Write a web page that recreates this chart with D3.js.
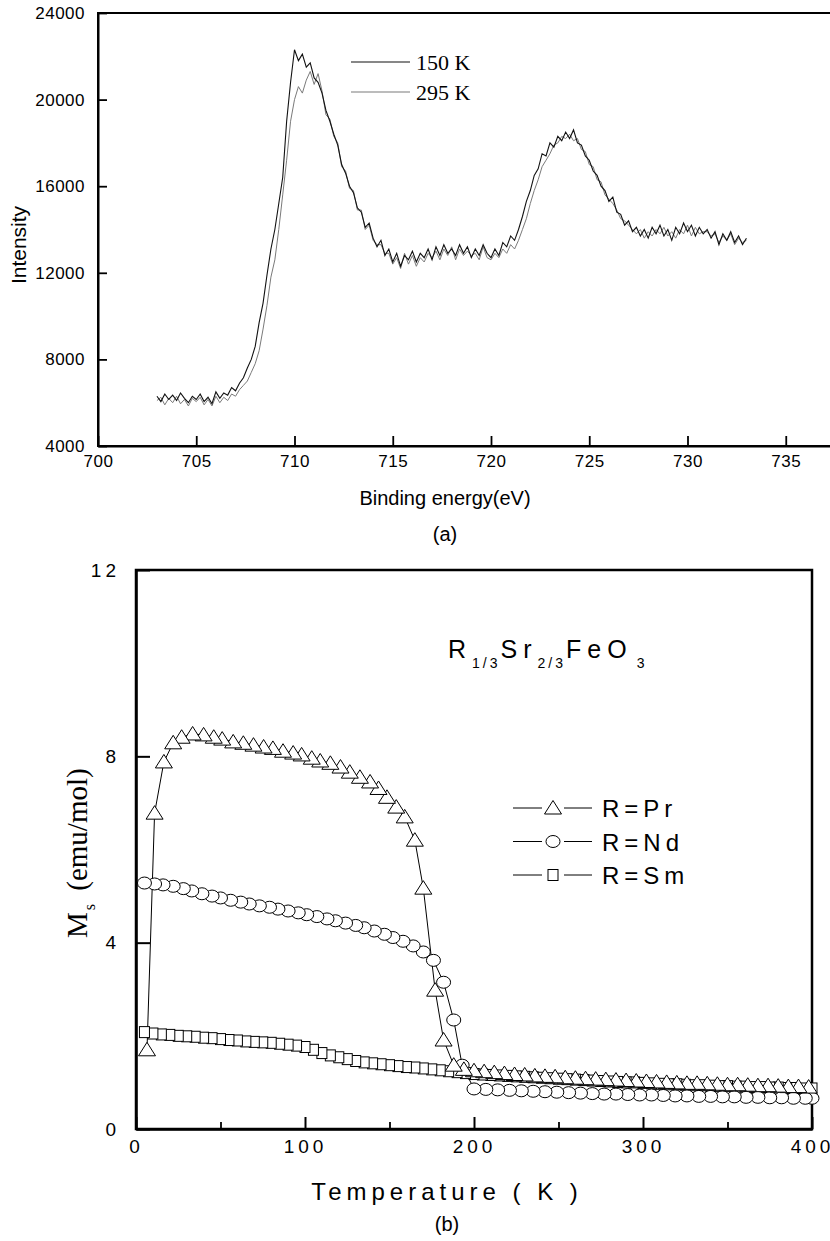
<!DOCTYPE html>
<html>
<head>
<meta charset="utf-8">
<script src="https://cdn.jsdelivr.net/npm/d3@7"></script>
<style>
  body { margin: 0; background: #fff; }
  svg { display: block; background: #fff; }
  text { font-family: "Liberation Sans", Arial, sans-serif; fill: #000; }
  .serif { font-family: "Liberation Serif", "Times New Roman", serif; }
</style>
</head>
<body>
<div id="chart"></div>
<script>
// ---------- panel (a): XPS spectra, 0.2 eV grid starting at 703 eV ----------
const xpsStart = 703, xpsStep = 0.2;
const xps150K = [
  6300, 6050, 6400, 6150, 6350, 6100, 6450, 6200, 6000, 6300,
  6150, 6400, 6050, 6250, 5950, 6500, 6200, 6450, 6350, 6700,
  6550, 6900, 7150, 7600, 8000, 8600, 9700, 10600, 11900, 13100,
  14000, 15200, 16400, 19000, 20800, 22300, 21800, 22100, 21500, 21700,
  21000, 20800, 20300, 19500, 19000, 18400, 17900, 17000, 16600, 16000,
  15700, 15000, 14800, 14100, 14300, 13600, 13200, 13500, 12800, 13100,
  12500, 12900, 12300, 12800, 12600, 13000, 12500, 12900, 12700, 13100,
  12600, 13200, 12800, 13300, 12900, 13100, 12800, 13300, 12900, 13200,
  12700, 13100, 12800, 13300, 12900, 12700, 13100, 12800, 13400, 13200,
  13700, 13500, 14000, 14600, 15300, 15800, 16500, 16800, 17500, 17400,
  18000, 17800, 18300, 18100, 18500, 18200, 18600, 18000, 17900, 17400,
  17200, 16700, 16500, 16000, 15800, 15300, 15500, 14800, 14700, 14200,
  14400, 13900, 14100, 13700, 14000, 13600, 14100, 13800, 14200, 13700,
  14000, 13500, 14100, 13800, 14300, 13900, 14200, 13700, 14100, 13800,
  14000, 13600, 13900, 13300, 13800, 13500, 13900, 13400, 13700, 13300,
  13600
];
const xps295K = [
  6100, 6250, 5900, 6200, 6000, 6300, 5950, 6150, 5850, 6200,
  6050, 6250, 5900, 6150, 5850, 6300, 6000, 6250, 6100, 6400,
  6300, 6600, 6800, 7000, 7400, 7800, 8400, 9400, 10500, 11800,
  12600, 14000, 15600, 17200, 19000, 20000, 20600, 20300, 20900, 21300,
  20700, 21200, 20400, 19300, 19100, 18300, 18000, 16900, 16700, 15900,
  15800, 14900, 14900, 14000, 14200, 13500, 13300, 13300, 12900, 12900,
  12400, 12700, 12200, 12900, 12400, 12800, 12300, 12700, 12500, 12900,
  12700, 13000, 12600, 13100, 12800, 13200, 12600, 13100, 12800, 13000,
  12800, 12900, 12600, 13200, 12700, 12600, 12900, 12700, 13100, 12900,
  13300, 13100, 13500, 14000, 14500, 15200, 15800, 16300, 16900, 17200,
  17500, 17900, 18000, 18300, 18200, 18400, 18100, 18200, 17700, 17600,
  17000, 16900, 16300, 16200, 15600, 15400, 15200, 14900, 14500, 14400,
  14200, 14000, 13800, 14000, 13600, 13900, 13700, 14000, 13800, 14100,
  13700, 13900, 13600, 14000, 13800, 14200, 13700, 14100, 13800, 13900,
  13900, 13700, 13800, 13400, 13700, 13500, 13800, 13300, 13600, 13400,
  13500
];
const xpsLegend = ["150 K", "295 K"];
const xpsXTicks = [700, 705, 710, 715, 720, 725, 730, 735];
const xpsYTicks = [4000, 8000, 12000, 16000, 20000, 24000];

// ---------- panel (b): saturation magnetisation vs temperature ----------
const prTemp = [6.5, 11, 16.5, 22, 27, 33.5, 40, 46, 51, 57.5, 63.5, 69.5, 75.5, 81, 87, 93, 98, 104, 109, 115,
  121, 126.5, 132.5, 138.5, 143.5, 148.5, 154, 159, 165, 170, 177, 182, 188,
  194, 200, 206, 212, 218, 224, 230, 236, 242, 248, 254, 260, 266, 272, 278, 284, 290, 296,
  302, 308, 314, 320, 326, 332, 338, 344, 350, 356, 362, 368, 374, 380, 386, 392, 398];
const prMs = [1.7, 6.78, 7.88, 8.29, 8.41, 8.48, 8.46, 8.41, 8.37, 8.31, 8.28, 8.24, 8.2, 8.17, 8.11, 8.07, 8.03, 7.96, 7.9, 7.85,
  7.77, 7.66, 7.55, 7.45, 7.31, 7.12, 6.91, 6.7, 6.2, 5.17, 2.98, 1.91, 1.37,
  1.28, 1.25, 1.23, 1.21, 1.19, 1.17, 1.16, 1.14, 1.13, 1.12, 1.1, 1.09, 1.08, 1.07, 1.06, 1.05, 1.04, 1.03,
  1.02, 1.01, 1.0, 0.99, 0.98, 0.98, 0.97, 0.96, 0.95, 0.95, 0.94, 0.93, 0.93, 0.92, 0.91, 0.91, 0.9];

const ndTemp = [5, 11, 16, 22, 28, 33, 39, 45, 50, 56, 62, 67, 73, 79, 84, 90, 96, 101, 107, 113,
  118, 124, 130, 135, 141, 147, 152, 158, 164, 170, 176, 182, 188, 193,
  200, 207, 214, 221, 228, 235, 242, 249, 256, 263, 270, 277, 284, 291, 298,
  305, 312, 319, 326, 333, 340, 347, 354, 361, 368, 375, 382, 389, 396, 400];
const ndMs = [5.28, 5.26, 5.24, 5.21, 5.16, 5.11, 5.05, 5.0, 4.96, 4.91, 4.87, 4.83, 4.79, 4.76, 4.72, 4.68, 4.64, 4.6, 4.56, 4.51,
  4.47, 4.42, 4.37, 4.32, 4.25, 4.18, 4.11, 4.03, 3.93, 3.8, 3.62, 3.15, 2.34, 1.37,
  0.86, 0.85, 0.84, 0.83, 0.82, 0.81, 0.8, 0.79, 0.78, 0.77, 0.76, 0.75, 0.75, 0.74, 0.73,
  0.73, 0.72, 0.71, 0.71, 0.7, 0.7, 0.69, 0.69, 0.68, 0.68, 0.67, 0.67, 0.66, 0.66, 0.66];

const smTemp = [5, 10, 15, 20, 25, 30, 35, 40, 45, 50, 55, 60, 65, 70, 75, 80, 85, 90, 95, 100,
  105, 110, 115, 120, 125, 130, 135, 140, 145, 150, 155, 160, 165, 170, 175, 180, 185, 190, 195, 200,
  205, 210, 215, 220, 225, 230, 235, 240, 245, 250, 255, 260, 265, 270, 275, 280, 285, 290, 295, 300,
  305, 310, 315, 320, 325, 330, 335, 340, 345, 350, 355, 360, 365, 370, 375, 380, 385, 390, 395, 400];
const smMs = [2.08, 2.05, 2.03, 2.02, 2.0, 1.99, 1.98, 1.96, 1.95, 1.93, 1.91, 1.9, 1.88, 1.87, 1.86, 1.85, 1.83, 1.81, 1.79, 1.76,
  1.7, 1.63, 1.58, 1.54, 1.5, 1.46, 1.43, 1.41, 1.39, 1.37, 1.35, 1.33, 1.32, 1.3, 1.28, 1.26, 1.24, 1.22, 1.2, 1.18,
  1.17, 1.16, 1.15, 1.14, 1.13, 1.12, 1.11, 1.1, 1.09, 1.08, 1.07, 1.06, 1.05, 1.04, 1.03, 1.02, 1.01, 1.0, 1.0, 0.99,
  0.98, 0.97, 0.96, 0.96, 0.95, 0.94, 0.94, 0.93, 0.92, 0.92, 0.91, 0.91, 0.9, 0.9, 0.89, 0.89, 0.88, 0.88, 0.87, 0.87];

const msLegend = ["R=Pr", "R=Nd", "R=Sm"];
const msXMajor = [0, 100, 200, 300, 400];
const msXMinor = [50, 150, 250, 350];
const msYTicks = [0, 4, 8, 12];

function main() {
    const svg = d3.select("#chart").append("svg")
        .attr("width", 830)
        .attr("height", 1241);

    // ================= panel (a) =================
    const xA = d3.scaleLinear().domain([700, 740]).range([98, 884]);
    const yA = d3.scaleLinear().domain([4000, 24000]).range([446, 13]);

    // frame (right edge falls outside the page)
    svg.append("rect")
        .attr("x", xA(700)).attr("y", yA(24000))
        .attr("width", xA(740) - xA(700)).attr("height", yA(4000) - yA(24000))
        .attr("fill", "none").attr("stroke", "#000").attr("stroke-width", 2);

    const axA_x = svg.append("g")
        .attr("transform", `translate(0,${yA(4000)})`)
        .call(d3.axisBottom(xA).tickValues(xpsXTicks).tickFormat(d3.format("d"))
            .tickSize(-10).tickSizeOuter(0).tickPadding(9));
    const axA_y = svg.append("g")
        .attr("transform", `translate(${xA(700)},0)`)
        .call(d3.axisLeft(yA).tickValues(xpsYTicks).tickFormat(d3.format("d"))
            .tickSize(-9).tickSizeOuter(0).tickPadding(13));
    [axA_x, axA_y].forEach(g => {
        g.select(".domain").attr("stroke-width", 2);
        g.selectAll(".tick line").attr("stroke-width", 1.8);
        g.selectAll("text")
            .style("font-size", "17px")
            .style("letter-spacing", "0.5px")
            .style("font-family", "Liberation Sans, Arial, sans-serif");
    });

    const lineA = d3.line()
        .x((d, i) => xA(xpsStart + i * xpsStep))
        .y(d => yA(d));

    svg.append("path").datum(xps295K)
        .attr("d", lineA).attr("fill", "none")
        .attr("stroke", "#7a7a7a").attr("stroke-width", 1);
    svg.append("path").datum(xps150K)
        .attr("d", lineA).attr("fill", "none")
        .attr("stroke", "#111").attr("stroke-width", 1.1);

    // legend (a)
    const legA = svg.append("g");
    xpsLegend.forEach((lab, i) => {
        const y = 62 + i * 30;
        legA.append("line")
            .attr("x1", 351).attr("x2", 410).attr("y1", y).attr("y2", y)
            .attr("stroke", i === 0 ? "#111" : "#7a7a7a").attr("stroke-width", 1.1);
        legA.append("text").attr("class", "serif")
            .attr("x", 416).attr("y", y + 8)
            .style("font-size", "22px")
            .text(lab);
    });

    // axis titles (a)
    svg.append("text")
        .attr("transform", "translate(26,245) rotate(-90)")
        .attr("text-anchor", "middle")
        .style("font-size", "21px")
        .text("Intensity");
    svg.append("text")
        .attr("x", 445).attr("y", 505)
        .attr("text-anchor", "middle")
        .style("font-size", "20px")
        .text("Binding energy(eV)");
    svg.append("text")
        .attr("x", 445).attr("y", 541)
        .attr("text-anchor", "middle")
        .style("font-size", "20px")
        .text("(a)");

    // ================= panel (b) =================
    const xB = d3.scaleLinear().domain([0, 400]).range([136, 812]);
    const yB = d3.scaleLinear().domain([0, 12]).range([1129, 570]);

    svg.append("rect")
        .attr("x", xB(0)).attr("y", yB(12))
        .attr("width", xB(400) - xB(0)).attr("height", yB(0) - yB(12))
        .attr("fill", "none").attr("stroke", "#000").attr("stroke-width", 2.5);

    // minor x ticks
    svg.append("g")
        .attr("transform", `translate(0,${yB(0)})`)
        .call(d3.axisBottom(xB).tickValues(msXMinor).tickSize(-7).tickSizeOuter(0).tickFormat(""))
        .call(g => g.select(".domain").remove())
        .selectAll(".tick line").attr("stroke-width", 1.8);

    const axB_x = svg.append("g")
        .attr("transform", `translate(0,${yB(0)})`)
        .call(d3.axisBottom(xB).tickValues(msXMajor).tickSize(-12).tickSizeOuter(0).tickPadding(11));
    const axB_y = svg.append("g")
        .attr("transform", `translate(${xB(0)},0)`)
        .call(d3.axisLeft(yB).tickValues(msYTicks).tickSize(-14).tickSizeOuter(0).tickPadding(16));
    [axB_x, axB_y].forEach(g => {
        g.select(".domain").attr("stroke-width", 2.5);
        g.selectAll(".tick line").attr("stroke-width", 2);
        g.selectAll("text")
            .style("font-size", "19px")
            .style("letter-spacing", "4px")
            .style("font-family", "Liberation Sans, Arial, sans-serif");
    });

    const lineB = d3.line()
        .x(d => xB(d[0]))
        .y(d => yB(d[1]));

    const triPath = "M0,-7.5L8.5,6L-8.5,6Z";
    const series = [
        {temp: smTemp, ms: smMs, shape: "square"},
        {temp: ndTemp, ms: ndMs, shape: "circle"},
        {temp: prTemp, ms: prMs, shape: "triangle"}
    ];

    function addMarker(g, shape, x, y) {
        if (shape === "triangle") {
            g.append("path").attr("d", triPath)
                .attr("transform", `translate(${x},${y})`);
        } else if (shape === "circle") {
            g.append("ellipse").attr("cx", x).attr("cy", y).attr("rx", 7).attr("ry", 6);
        } else {
            g.append("rect").attr("x", x - 5).attr("y", y - 5.5).attr("width", 10).attr("height", 11);
        }
    }

    // connecting lines first
    series.forEach(s => {
        const pts = s.temp.map((t, i) => [t, s.ms[i]]);
        svg.append("path").datum(pts)
            .attr("d", lineB).attr("fill", "none")
            .attr("stroke", "#000").attr("stroke-width", 1);
    });

    // markers: drawn from the last point backwards so earlier points sit on top
    series.forEach(s => {
        const g = svg.append("g")
            .attr("fill", "#fff").attr("stroke", "#000").attr("stroke-width", 1);
        for (let i = s.temp.length - 1; i >= 0; i--) {
            addMarker(g, s.shape, xB(s.temp[i]), yB(s.ms[i]));
        }
    });

    // legend (b): line segments either side of the marker
    const legShapes = ["triangle", "circle", "square"];
    msLegend.forEach((lab, i) => {
        const y = 808 + i * 33.5;
        svg.append("line")
            .attr("x1", 513).attr("x2", 542).attr("y1", y).attr("y2", y)
            .attr("stroke", "#000").attr("stroke-width", 1);
        svg.append("line")
            .attr("x1", 564).attr("x2", 592).attr("y1", y).attr("y2", y)
            .attr("stroke", "#000").attr("stroke-width", 1);
        const g = svg.append("g")
            .attr("fill", "#fff").attr("stroke", "#000").attr("stroke-width", 1);
        addMarker(g, legShapes[i], 553, y);
        svg.append("text")
            .attr("x", 602).attr("y", y + 9)
            .style("font-size", "24px")
            .style("letter-spacing", "5px")
            .text(lab);
    });

    // compound title R1/3Sr2/3FeO3
    const title = svg.append("text")
        .attr("x", 448).attr("y", 658)
        .style("font-size", "25px");
    const parts = [
        {t: "R", sub: false}, {t: "1/3", sub: true}, {t: "Sr", sub: false},
        {t: "2/3", sub: true}, {t: "FeO", sub: false}, {t: "3", sub: true}
    ];
    let prevSub = false;
    parts.forEach(p => {
        const shift = p.sub === prevSub ? 0 : (p.sub ? 10 : -10);
        title.append("tspan")
            .attr("dy", shift)
            .attr("dx", p.t === "3" ? 4 : 0)
            .style("font-size", p.sub ? "14px" : "25px")
            .style("letter-spacing", p.sub ? "3px" : "6px")
            .text(p.t);
        prevSub = p.sub;
    });

    // y title: M_s (emu/mol)
    const yTitle = svg.append("text").attr("class", "serif")
        .attr("transform", "translate(87,938) rotate(-90)")
        .style("font-size", "29px");
    yTitle.append("tspan").text("M");
    yTitle.append("tspan").attr("dy", 8).attr("dx", 2).style("font-size", "16px").text("s");
    yTitle.append("tspan").attr("dy", -8).attr("dx", 6).text(" (emu/mol)");

    svg.append("text")
        .attr("x", 447).attr("y", 1200)
        .attr("text-anchor", "middle")
        .style("font-size", "24px")
        .style("letter-spacing", "5px")
        .text("Temperature ( K )");
    svg.append("text")
        .attr("x", 447).attr("y", 1231)
        .attr("text-anchor", "middle")
        .style("font-size", "20px")
        .text("(b)");
}

main();
</script>
</body>
</html>
